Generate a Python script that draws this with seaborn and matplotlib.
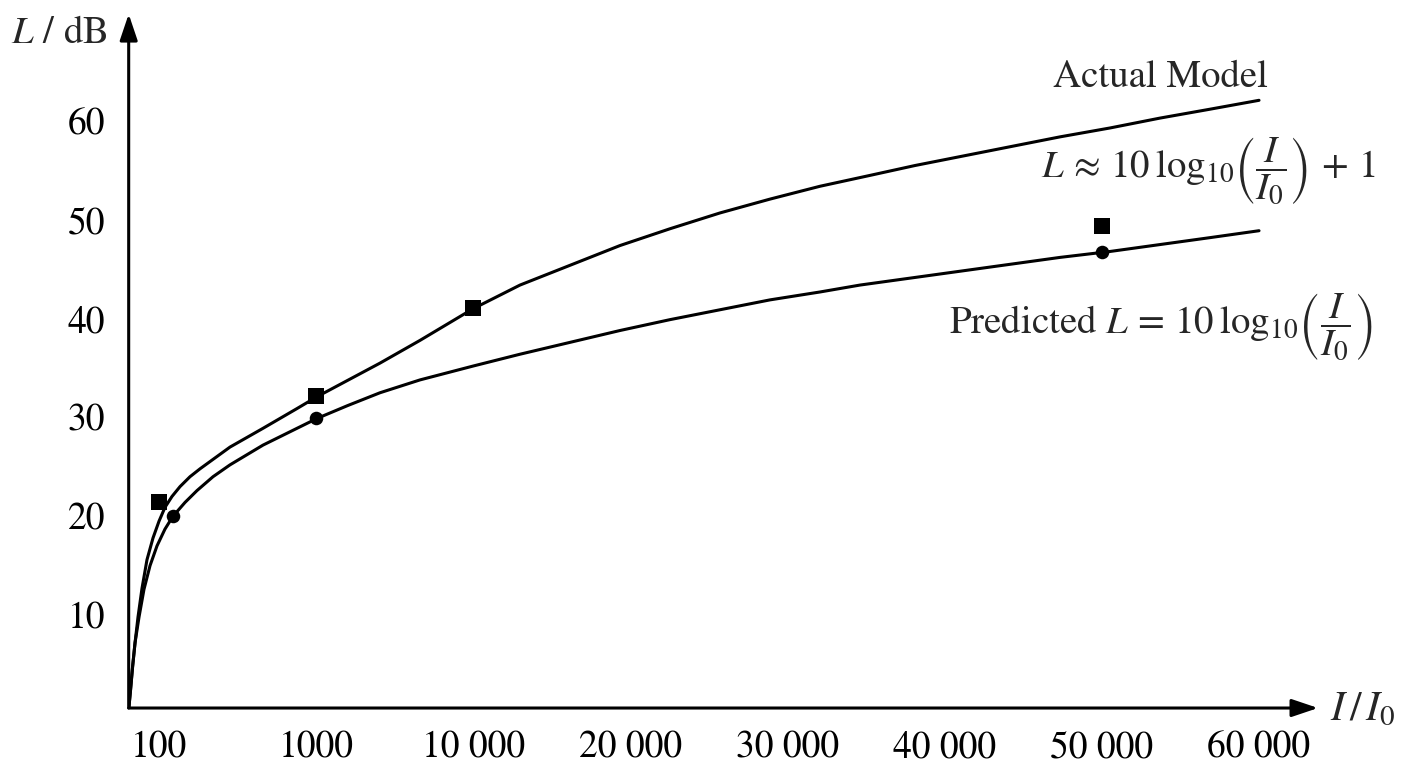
import numpy as np
import pandas as pd
import matplotlib
matplotlib.use("Agg")
import matplotlib.pyplot as plt
import seaborn as sns

# values
actual_curve_i = [64.1, 65.6, 67.5, 70.1, 73.2, 77.6, 83.5, 91.2, 99.6, 108.7, 120.4,
                  135.5, 156.8, 181.6, 226.2, 281.8, 457.2, 752.4, 1009, 2540, 4565,
                  9927, 12960, 16143, 19325, 22508, 25691, 28873, 32056, 35239, 38103,
                  40968, 44150, 47333, 50516, 53698, 56881, 60000]
actual_curve_l = [0.7, 2.4, 4.6, 7.2, 9.8, 12.7, 15.6, 17.8, 19.5, 20.9, 22.0,
                  23.0, 24.0, 24.8, 25.9, 27.0, 28.9, 30.9, 32.1, 35.5, 37.8,
                  41.0, 43.4, 45.4, 47.4, 49.1, 50.7, 52.1, 53.4, 54.5, 55.5,
                  56.4, 57.4, 58.4, 59.3, 60.3, 61.2, 62.1]

pred_curve_i = [64.1, 65.6, 67.5, 70.1, 74.3, 79.9, 87.3, 96.7, 108.7, 122.2, 145.8,
                173.8, 219.7, 281.8, 457.2, 752.4, 1009, 1580, 2540, 4565, 9927,
                12960, 16143, 19325, 22508, 25691, 28873, 32056, 34602, 37785, 40968,
                44150, 47333, 50516, 53698, 56881, 60000]
pred_curve_l = [0.7, 2.4, 4.7, 7.2, 9.8, 12.6, 15.0, 17.0, 18.7, 20.0, 21.4,
                22.6, 24.0, 25.2, 27.2, 28.9, 29.9, 31.2, 32.5, 33.8, 35.2,
                36.4, 37.6, 38.8, 39.9, 40.9, 41.9, 42.7, 43.4, 44.1, 44.8,
                45.5, 46.2, 46.8, 47.5, 48.2, 48.9]

actual_pts_i = [100, 1000, 10000, 50000]
actual_pts_l = [21.4, 32.2, 41.1, 49.4]

pred_pts_i = [122, 1000, 50000]
pred_pts_l = [20.0, 29.9, 46.7]

x_ticks = [100, 1000, 10000, 20000, 30000, 40000, 50000, 60000]
x_tick_labels = ["100", "1000", "10 000", "20 000", "30 000", "40 000", "50 000", "60 000"]
y_ticks = [10, 20, 30, 40, 50, 60]


# axis is logarithmic up to 10 000, then linear in steps of 10 000
def forward(x):
    x = np.asarray(x, dtype=float)
    lo = np.log10(np.clip(x, 1e-9, None)) - 2
    hi = 1 + x / 1e4
    return np.where(x <= 1e4, lo, hi)


def inverse(p):
    p = np.asarray(p, dtype=float)
    lo = 10 ** (np.minimum(p, 2) + 2)
    hi = (p - 1) * 1e4
    return np.where(p <= 2, lo, hi)


sns.set_theme(style="white")
plt.rcParams["font.family"] = ["STIXGeneral", "Liberation Serif", "DejaVu Serif"]
plt.rcParams["mathtext.fontset"] = "stix"

fig = plt.figure(figsize=(14.08, 7.68), dpi=100)
ax = fig.add_axes([0.0914, 0.0781, 0.8447, 0.9036])
ax.set_xscale("function", functions=(forward, inverse))

actual_df = pd.DataFrame({"I": actual_curve_i, "L": actual_curve_l})
pred_df = pd.DataFrame({"I": pred_curve_i, "L": pred_curve_l})

sns.lineplot(data=actual_df, x="I", y="L", ax=ax, color="black", lw=2.2,
             estimator=None, sort=False)
sns.lineplot(data=pred_df, x="I", y="L", ax=ax, color="black", lw=2.2,
             estimator=None, sort=False)
sns.scatterplot(x=actual_pts_i, y=actual_pts_l, ax=ax, marker="s", s=125,
                color="black", linewidth=0, zorder=5)
sns.scatterplot(x=pred_pts_i, y=pred_pts_l, ax=ax, marker="o", s=95,
                color="black", linewidth=0, zorder=5)

ax.set_xlim(63.86, 63756)
ax.set_ylim(0.59, 70.83)
ax.set_xticks(x_ticks)
ax.set_xticklabels(x_tick_labels)
ax.set_yticks(y_ticks)
ax.minorticks_off()
ax.set_xlabel("")
ax.set_ylabel("")
ax.tick_params(axis="both", direction="inout", length=18, width=1.3,
               color="black", labelsize=27, labelcolor="black")
ax.tick_params(axis="x", pad=7)
ax.tick_params(axis="y", pad=8)

for side in ["top", "right", "left", "bottom"]:
    ax.spines[side].set_visible(False)

arrow = dict(arrowstyle="-|>,head_length=0.8,head_width=0.27", lw=2.2,
             color="black", shrinkA=0, shrinkB=0, mutation_scale=20)
ax.annotate("", xy=(1, 0), xytext=(0, 0), xycoords="axes fraction",
            textcoords="axes fraction", arrowprops=arrow, annotation_clip=False)
ax.annotate("", xy=(0, 1), xytext=(0, 0), xycoords="axes fraction",
            textcoords="axes fraction", arrowprops=arrow, annotation_clip=False)

ax.text(-0.0174, 0.958, "$L$ / dB", transform=ax.transAxes, ha="right",
        va="baseline", fontsize=28)
ax.text(1.0101, -0.0173, r"$I\,/\,I_0$", transform=ax.transAxes, ha="left",
        va="baseline", fontsize=30)

ax.text(0.8673, 0.8948, "Actual Model", transform=ax.transAxes, ha="center",
        va="baseline", fontsize=28)
ax.text(1.0482, 0.7651,
        r"$L\,\approx\,10\:\log_{10}\!\left(\dfrac{I}{I_0}\right)\,+\,1$",
        transform=ax.transAxes, ha="right", va="baseline", fontsize=28)
ax.text(1.0457, 0.5403,
        r"Predicted $L\,=\,10\:\log_{10}\!\left(\dfrac{I}{I_0}\right)$",
        transform=ax.transAxes, ha="right", va="baseline", fontsize=28)

fig.savefig("out.png", dpi=100, facecolor="white")
plt.close(fig)
